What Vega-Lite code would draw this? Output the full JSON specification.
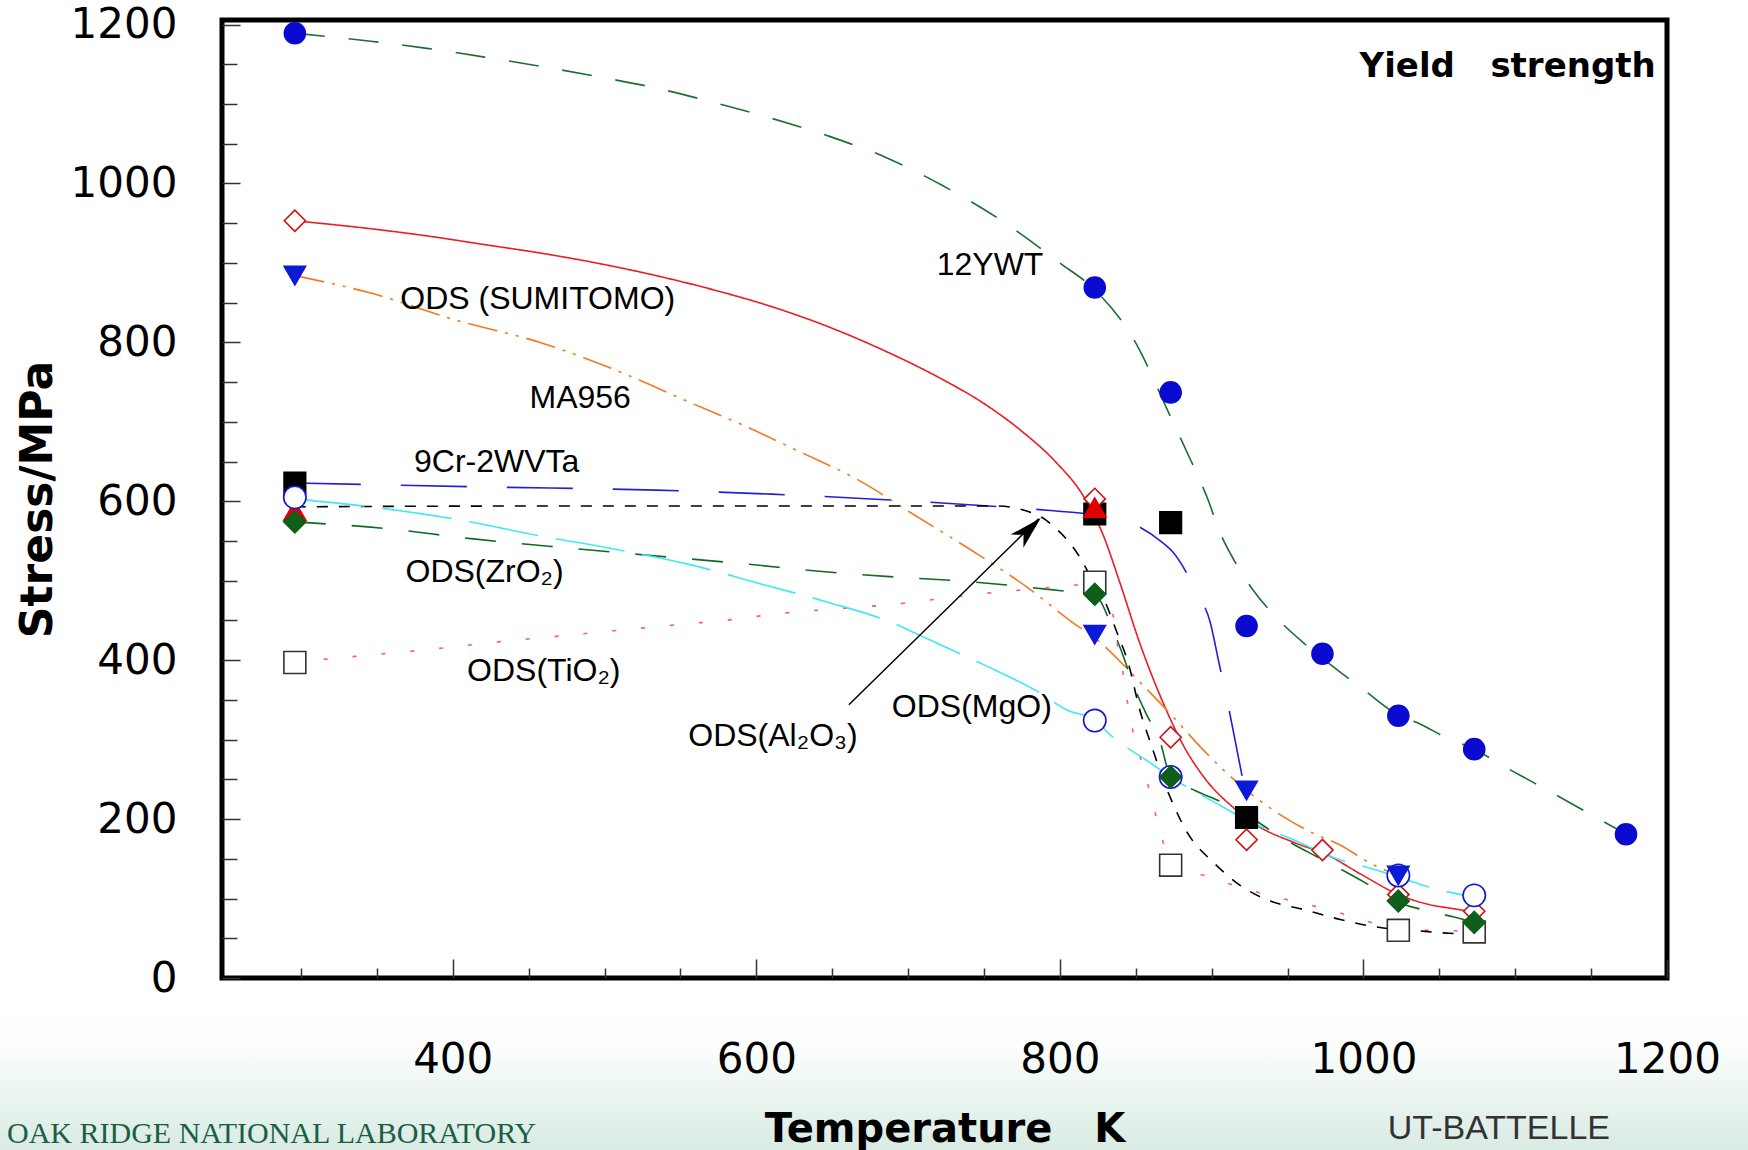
{
  "$schema": "https://vega.github.io/schema/vega-lite/v6.json",
  "width": 1445,
  "height": 958,
  "autosize": "none",
  "padding": {"left": 222, "top": 20, "right": 81, "bottom": 172},
  "background": "white",
  "config": {"view": {"stroke": "#000000", "strokeWidth": 5}},
  "datasets": {
    "curves": [
      {"s":"12YWT","T":296,"S":1189},{"s":"12YWT","T":346,"S":1179},{"s":"12YWT","T":383,"S":1170},{"s":"12YWT","T":421,"S":1159},{"s":"12YWT","T":459,"S":1147},{"s":"12YWT","T":497,"S":1134},{"s":"12YWT","T":534,"S":1120},{"s":"12YWT","T":572,"S":1102},{"s":"12YWT","T":610,"S":1082},{"s":"12YWT","T":647,"S":1060},{"s":"12YWT","T":685,"S":1033},{"s":"12YWT","T":723,"S":997},{"s":"12YWT","T":761,"S":954},{"s":"12YWT","T":800,"S":900},{"s":"12YWT","T":823,"S":866},{"s":"12YWT","T":848,"S":806},{"s":"12YWT","T":873,"S":706},{"s":"12YWT","T":882,"S":669},{"s":"12YWT","T":898,"S":600},{"s":"12YWT","T":905,"S":563},{"s":"12YWT","T":915,"S":525},{"s":"12YWT","T":927,"S":489},{"s":"12YWT","T":943,"S":453},{"s":"12YWT","T":961,"S":421},{"s":"12YWT","T":980,"S":392},{"s":"12YWT","T":1000,"S":363},{"s":"12YWT","T":1023,"S":331},{"s":"12YWT","T":1037,"S":320},{"s":"12YWT","T":1054,"S":303},{"s":"12YWT","T":1073,"S":288},{"s":"12YWT","T":1092,"S":267},{"s":"12YWT","T":1113,"S":245},{"s":"12YWT","T":1173,"S":181},
      {"s":"ODS (SUMITOMO)","T":296,"S":953},{"s":"ODS (SUMITOMO)","T":346,"S":943},{"s":"ODS (SUMITOMO)","T":383,"S":934},{"s":"ODS (SUMITOMO)","T":421,"S":923},{"s":"ODS (SUMITOMO)","T":459,"S":912},{"s":"ODS (SUMITOMO)","T":497,"S":899},{"s":"ODS (SUMITOMO)","T":534,"S":884},{"s":"ODS (SUMITOMO)","T":572,"S":866},{"s":"ODS (SUMITOMO)","T":610,"S":845},{"s":"ODS (SUMITOMO)","T":647,"S":820},{"s":"ODS (SUMITOMO)","T":685,"S":789},{"s":"ODS (SUMITOMO)","T":723,"S":753},{"s":"ODS (SUMITOMO)","T":750,"S":723},{"s":"ODS (SUMITOMO)","T":775,"S":688},{"s":"ODS (SUMITOMO)","T":798,"S":648},{"s":"ODS (SUMITOMO)","T":815,"S":608},{"s":"ODS (SUMITOMO)","T":828,"S":560},{"s":"ODS (SUMITOMO)","T":840,"S":495},{"s":"ODS (SUMITOMO)","T":852,"S":425},{"s":"ODS (SUMITOMO)","T":867,"S":351},{"s":"ODS (SUMITOMO)","T":881,"S":294},{"s":"ODS (SUMITOMO)","T":896,"S":250},{"s":"ODS (SUMITOMO)","T":914,"S":215},{"s":"ODS (SUMITOMO)","T":930,"S":192},{"s":"ODS (SUMITOMO)","T":955,"S":170},{"s":"ODS (SUMITOMO)","T":975,"S":156},{"s":"ODS (SUMITOMO)","T":998,"S":131},{"s":"ODS (SUMITOMO)","T":1022,"S":106},{"s":"ODS (SUMITOMO)","T":1042,"S":93},{"s":"ODS (SUMITOMO)","T":1060,"S":87},{"s":"ODS (SUMITOMO)","T":1073,"S":83},
      {"s":"MA956","T":296,"S":884},{"s":"MA956","T":346,"S":862},{"s":"MA956","T":402,"S":828},{"s":"MA956","T":459,"S":799},{"s":"MA956","T":515,"S":759},{"s":"MA956","T":553,"S":727},{"s":"MA956","T":591,"S":696},{"s":"MA956","T":629,"S":662},{"s":"MA956","T":666,"S":628},{"s":"MA956","T":704,"S":583},{"s":"MA956","T":742,"S":538},{"s":"MA956","T":779,"S":491},{"s":"MA956","T":808,"S":448},{"s":"MA956","T":823,"S":428},{"s":"MA956","T":856,"S":366},{"s":"MA956","T":873,"S":332},{"s":"MA956","T":896,"S":284},{"s":"MA956","T":920,"S":241},{"s":"MA956","T":940,"S":212},{"s":"MA956","T":966,"S":183},{"s":"MA956","T":984,"S":168},{"s":"MA956","T":1005,"S":144},{"s":"MA956","T":1023,"S":129},
      {"s":"9Cr-2WVTa","T":296,"S":623},{"s":"9Cr-2WVTa","T":421,"S":618},{"s":"9Cr-2WVTa","T":534,"S":614},{"s":"9Cr-2WVTa","T":610,"S":609},{"s":"9Cr-2WVTa","T":685,"S":602},{"s":"9Cr-2WVTa","T":761,"S":593},{"s":"9Cr-2WVTa","T":796,"S":588},{"s":"9Cr-2WVTa","T":823,"S":583},{"s":"9Cr-2WVTa","T":849,"S":571},{"s":"9Cr-2WVTa","T":867,"S":549},{"s":"9Cr-2WVTa","T":874,"S":537},{"s":"9Cr-2WVTa","T":890,"S":486},{"s":"9Cr-2WVTa","T":899,"S":448},{"s":"9Cr-2WVTa","T":905,"S":395},{"s":"9Cr-2WVTa","T":911,"S":342},{"s":"9Cr-2WVTa","T":917,"S":284},{"s":"9Cr-2WVTa","T":921,"S":245},
      {"s":"ODS(ZrO2)","T":296,"S":574},{"s":"ODS(ZrO2)","T":354,"S":566},{"s":"ODS(ZrO2)","T":412,"S":553},{"s":"ODS(ZrO2)","T":471,"S":542},{"s":"ODS(ZrO2)","T":529,"S":532},{"s":"ODS(ZrO2)","T":588,"S":522},{"s":"ODS(ZrO2)","T":647,"S":511},{"s":"ODS(ZrO2)","T":705,"S":503},{"s":"ODS(ZrO2)","T":732,"S":500},{"s":"ODS(ZrO2)","T":808,"S":486},{"s":"ODS(ZrO2)","T":823,"S":483},{"s":"ODS(ZrO2)","T":828,"S":470},{"s":"ODS(ZrO2)","T":834,"S":443},{"s":"ODS(ZrO2)","T":842,"S":404},{"s":"ODS(ZrO2)","T":848,"S":371},{"s":"ODS(ZrO2)","T":857,"S":332},{"s":"ODS(ZrO2)","T":866,"S":298},{"s":"ODS(ZrO2)","T":873,"S":253},{"s":"ODS(ZrO2)","T":889,"S":236},{"s":"ODS(ZrO2)","T":907,"S":221},{"s":"ODS(ZrO2)","T":925,"S":203},{"s":"ODS(ZrO2)","T":945,"S":178},{"s":"ODS(ZrO2)","T":963,"S":159},{"s":"ODS(ZrO2)","T":983,"S":139},{"s":"ODS(ZrO2)","T":1001,"S":120},{"s":"ODS(ZrO2)","T":1023,"S":95},{"s":"ODS(ZrO2)","T":1039,"S":86},{"s":"ODS(ZrO2)","T":1059,"S":77},{"s":"ODS(ZrO2)","T":1073,"S":70},
      {"s":"ODS(TiO2)","T":296,"S":397},{"s":"ODS(TiO2)","T":315,"S":401},{"s":"ODS(TiO2)","T":354,"S":408},{"s":"ODS(TiO2)","T":392,"S":415},{"s":"ODS(TiO2)","T":430,"S":423},{"s":"ODS(TiO2)","T":468,"S":430},{"s":"ODS(TiO2)","T":506,"S":437},{"s":"ODS(TiO2)","T":544,"S":444},{"s":"ODS(TiO2)","T":579,"S":450},{"s":"ODS(TiO2)","T":617,"S":459},{"s":"ODS(TiO2)","T":656,"S":465},{"s":"ODS(TiO2)","T":694,"S":471},{"s":"ODS(TiO2)","T":720,"S":477},{"s":"ODS(TiO2)","T":750,"S":484},{"s":"ODS(TiO2)","T":779,"S":489},{"s":"ODS(TiO2)","T":808,"S":494},{"s":"ODS(TiO2)","T":823,"S":497},{"s":"ODS(TiO2)","T":835,"S":457},{"s":"ODS(TiO2)","T":838,"S":419},{"s":"ODS(TiO2)","T":842,"S":380},{"s":"ODS(TiO2)","T":845,"S":342},{"s":"ODS(TiO2)","T":849,"S":303},{"s":"ODS(TiO2)","T":855,"S":265},{"s":"ODS(TiO2)","T":861,"S":221},{"s":"ODS(TiO2)","T":867,"S":178},{"s":"ODS(TiO2)","T":873,"S":142},{"s":"ODS(TiO2)","T":884,"S":135},{"s":"ODS(TiO2)","T":899,"S":127},{"s":"ODS(TiO2)","T":917,"S":115},{"s":"ODS(TiO2)","T":934,"S":106},{"s":"ODS(TiO2)","T":955,"S":96},{"s":"ODS(TiO2)","T":975,"S":87},{"s":"ODS(TiO2)","T":993,"S":77},{"s":"ODS(TiO2)","T":1010,"S":67},{"s":"ODS(TiO2)","T":1023,"S":60},{"s":"ODS(TiO2)","T":1048,"S":60},{"s":"ODS(TiO2)","T":1073,"S":58},
      {"s":"ODS(Al2O3)","T":296,"S":593},{"s":"ODS(Al2O3)","T":450,"S":594},{"s":"ODS(Al2O3)","T":655,"S":594},{"s":"ODS(Al2O3)","T":758,"S":594},{"s":"ODS(Al2O3)","T":788,"S":580},{"s":"ODS(Al2O3)","T":796,"S":568},{"s":"ODS(Al2O3)","T":808,"S":544},{"s":"ODS(Al2O3)","T":813,"S":530},{"s":"ODS(Al2O3)","T":820,"S":506},{"s":"ODS(Al2O3)","T":829,"S":477},{"s":"ODS(Al2O3)","T":837,"S":438},{"s":"ODS(Al2O3)","T":846,"S":390},{"s":"ODS(Al2O3)","T":852,"S":342},{"s":"ODS(Al2O3)","T":861,"S":289},{"s":"ODS(Al2O3)","T":867,"S":255},{"s":"ODS(Al2O3)","T":873,"S":226},{"s":"ODS(Al2O3)","T":884,"S":183},{"s":"ODS(Al2O3)","T":902,"S":144},{"s":"ODS(Al2O3)","T":920,"S":115},{"s":"ODS(Al2O3)","T":940,"S":96},{"s":"ODS(Al2O3)","T":961,"S":86},{"s":"ODS(Al2O3)","T":984,"S":74},{"s":"ODS(Al2O3)","T":1013,"S":63},{"s":"ODS(Al2O3)","T":1033,"S":60},{"s":"ODS(Al2O3)","T":1051,"S":57},{"s":"ODS(Al2O3)","T":1069,"S":55},
      {"s":"ODS(MgO)","T":296,"S":603},{"s":"ODS(MgO)","T":354,"S":591},{"s":"ODS(MgO)","T":406,"S":576},{"s":"ODS(MgO)","T":456,"S":557},{"s":"ODS(MgO)","T":506,"S":540},{"s":"ODS(MgO)","T":559,"S":519},{"s":"ODS(MgO)","T":603,"S":496},{"s":"ODS(MgO)","T":647,"S":473},{"s":"ODS(MgO)","T":691,"S":446},{"s":"ODS(MgO)","T":708,"S":431},{"s":"ODS(MgO)","T":749,"S":395},{"s":"ODS(MgO)","T":785,"S":361},{"s":"ODS(MgO)","T":805,"S":337},{"s":"ODS(MgO)","T":823,"S":325},{"s":"ODS(MgO)","T":832,"S":308},{"s":"ODS(MgO)","T":861,"S":269},{"s":"ODS(MgO)","T":873,"S":253},{"s":"ODS(MgO)","T":902,"S":221},{"s":"ODS(MgO)","T":925,"S":197},{"s":"ODS(MgO)","T":955,"S":173},{"s":"ODS(MgO)","T":984,"S":149},{"s":"ODS(MgO)","T":1010,"S":135},{"s":"ODS(MgO)","T":1023,"S":127},{"s":"ODS(MgO)","T":1052,"S":110},{"s":"ODS(MgO)","T":1073,"S":102}
    ],
    "pts": [
      {"s":"ODS(TiO2)","T":296,"S":397},{"s":"ODS(TiO2)","T":823,"S":498},{"s":"ODS(TiO2)","T":873,"S":142},{"s":"ODS(TiO2)","T":1023,"S":60},{"s":"ODS(TiO2)","T":1073,"S":58},
      {"s":"9Cr-2WVTa","T":296,"S":623},{"s":"9Cr-2WVTa","T":823,"S":584},{"s":"9Cr-2WVTa","T":873,"S":573},{"s":"9Cr-2WVTa","T":923,"S":202},
      {"s":"ODS (SUMITOMO)","T":296,"S":953},{"s":"ODS (SUMITOMO)","T":823,"S":603},{"s":"ODS (SUMITOMO)","T":873,"S":303},{"s":"ODS (SUMITOMO)","T":923,"S":174},{"s":"ODS (SUMITOMO)","T":973,"S":161},{"s":"ODS (SUMITOMO)","T":1023,"S":105},{"s":"ODS (SUMITOMO)","T":1073,"S":84},
      {"s":"ODS(Al2O3)","T":296,"S":588},{"s":"ODS(Al2O3)","T":823,"S":592},
      {"s":"ODS(MgO)","T":296,"S":605},{"s":"ODS(MgO)","T":823,"S":324},{"s":"ODS(MgO)","T":873,"S":253},{"s":"ODS(MgO)","T":1023,"S":129},{"s":"ODS(MgO)","T":1073,"S":104},
      {"s":"MA956","T":296,"S":884},{"s":"MA956","T":823,"S":432},{"s":"MA956","T":923,"S":236},{"s":"MA956","T":1023,"S":129},
      {"s":"ODS(ZrO2)","T":296,"S":574},{"s":"ODS(ZrO2)","T":823,"S":483},{"s":"ODS(ZrO2)","T":873,"S":253},{"s":"ODS(ZrO2)","T":1023,"S":97},{"s":"ODS(ZrO2)","T":1073,"S":70},
      {"s":"12YWT","T":296,"S":1189},{"s":"12YWT","T":823,"S":869},{"s":"12YWT","T":873,"S":737},{"s":"12YWT","T":923,"S":443},{"s":"12YWT","T":973,"S":408},{"s":"12YWT","T":1023,"S":330},{"s":"12YWT","T":1073,"S":288},{"s":"12YWT","T":1173,"S":181}
    ],
    "labels": [
      {"text":"12YWT","T":754,"S":897},
      {"text":"ODS (SUMITOMO)","T":456,"S":854},
      {"text":"MA956","T":484,"S":730},
      {"text":"9Cr-2WVTa","T":429,"S":649},
      {"text":"ODS(ZrO₂)","T":421,"S":511},
      {"text":"ODS(TiO₂)","T":460,"S":386},
      {"text":"ODS(Al₂O₃)","T":611,"S":304},
      {"text":"ODS(MgO)","T":742,"S":341}
    ],
    "arrow": [{"T":661,"S":344,"T2":786,"S2":578}],
    "arrowhead": [{"T":779.6,"S":564.4}],
    "title": [{"text":"Yield\u00a0\u00a0\u00a0strength","T":1095,"S":1146}],
    "ornl": [{"text":"OAK RIDGE NATIONAL LABORATORY","T":455,"S":-208}],
    "ut": [{"text":"UT-BATTELLE","T":1016,"S":-203}]
  },
  "layer": [
    {
      "data": {"values": [{"band": "footer"}]},
      "mark": {"type": "rect", "strokeWidth": 0, "fill": {"gradient": "linear", "x1": 0, "y1": 0, "x2": 0, "y2": 1, "stops": [{"offset": 0, "color": "#ffffff"}, {"offset": 0.3, "color": "#fcfefd"}, {"offset": 0.6, "color": "#e9f4ef"}, {"offset": 1, "color": "#d3e8df"}]}},
      "encoding": {
        "x": {
          "datum": 95, "type": "quantitative",
          "scale": {"domain": [248, 1200], "nice": false, "zero": false},
          "title": "Temperature\u00a0\u00a0\u00a0K",
          "axis": {
            "values": [300,350,400,450,500,550,600,650,700,750,800,850,900,950,1000,1050,1100,1150,1200],
            "labelExpr": "datum.value % 200 === 0 ? '' + datum.value : ''",
            "tickSize": {"condition": {"test": "datum.value % 200 === 0", "value": -19}, "value": -10},
            "tickColor": "#333333", "tickWidth": 1.5,
            "domain": false, "grid": false,
            "labelFont": "DejaVu Sans", "labelFontSize": 42, "labelColor": "#000000",
            "labelPadding": 80, "labelFlush": false, "labelOverlap": false, "labelBound": false,
            "titleFont": "DejaVu Sans", "titleFontSize": 40, "titleFontWeight": "bold", "titleColor": "#000000",
            "titlePadding": 20, "zindex": 1
          }
        },
        "x2": {"datum": 1265},
        "y": {
          "datum": -20, "type": "quantitative",
          "scale": {"domain": [0, 1205.7], "nice": false, "zero": false},
          "title": "Stress/MPa",
          "axis": {
            "values": [0,50,100,150,200,250,300,350,400,450,500,550,600,650,700,750,800,850,900,950,1000,1050,1100,1150,1200],
            "labelExpr": "datum.value % 200 === 0 ? '' + datum.value : ''",
            "tickSize": {"condition": {"test": "datum.value % 200 === 0", "value": -18}, "value": -15},
            "tickColor": "#333333", "tickWidth": 1.5,
            "domain": false, "grid": false,
            "labelFont": "DejaVu Sans", "labelFontSize": 42, "labelColor": "#000000",
            "labelPadding": 63, "labelOverlap": false, "labelBound": false, "labelFlush": false,
            "titleFont": "DejaVu Sans", "titleFontSize": 44, "titleFontWeight": "bold", "titleColor": "#000000",
            "titlePadding": 10, "zindex": 1
          }
        },
        "y2": {"datum": -240}
      }
    },
    {
      "encoding": {
        "x": {
          "field": "T", "type": "quantitative",
          "scale": {"domain": [248, 1200], "nice": false, "zero": false},
          "title": "Temperature\u00a0\u00a0\u00a0K",
          "axis": {
            "values": [300,350,400,450,500,550,600,650,700,750,800,850,900,950,1000,1050,1100,1150,1200],
            "labelExpr": "datum.value % 200 === 0 ? '' + datum.value : ''",
            "tickSize": {"condition": {"test": "datum.value % 200 === 0", "value": -19}, "value": -10},
            "tickColor": "#333333", "tickWidth": 1.5,
            "domain": false, "grid": false,
            "labelFont": "DejaVu Sans", "labelFontSize": 42, "labelColor": "#000000",
            "labelPadding": 80, "labelFlush": false, "labelOverlap": false, "labelBound": false,
            "titleFont": "DejaVu Sans", "titleFontSize": 40, "titleFontWeight": "bold", "titleColor": "#000000",
            "titlePadding": 20, "zindex": 1
          }
        },
        "y": {
          "field": "S", "type": "quantitative",
          "scale": {"domain": [0, 1205.7], "nice": false, "zero": false},
          "title": "Stress/MPa",
          "axis": {
            "values": [0,50,100,150,200,250,300,350,400,450,500,550,600,650,700,750,800,850,900,950,1000,1050,1100,1150,1200],
            "labelExpr": "datum.value % 200 === 0 ? '' + datum.value : ''",
            "tickSize": {"condition": {"test": "datum.value % 200 === 0", "value": -18}, "value": -15},
            "tickColor": "#333333", "tickWidth": 1.5,
            "domain": false, "grid": false,
            "labelFont": "DejaVu Sans", "labelFontSize": 42, "labelColor": "#000000",
            "labelPadding": 63, "labelOverlap": false, "labelBound": false, "labelFlush": false,
            "titleFont": "DejaVu Sans", "titleFontSize": 44, "titleFontWeight": "bold", "titleColor": "#000000",
            "titlePadding": 10, "zindex": 1
          }
        }
      },
      "layer": [
        {
          "data": {"name": "curves"},
          "mark": {"type": "line", "interpolate": "monotone"},
          "encoding": {
            "color": {"field": "s", "type": "nominal", "legend": null,
              "scale": {"domain": ["12YWT","ODS (SUMITOMO)","MA956","9Cr-2WVTa","ODS(ZrO2)","ODS(TiO2)","ODS(Al2O3)","ODS(MgO)"],
                        "range": ["#1d6e33","#ec1c24","#f47920","#2020d8","#0f6a22","#ff4fa0","#000000","#3ee8f5"]}},
            "strokeDash": {"field": "s", "type": "nominal", "legend": null,
              "scale": {"domain": ["12YWT","ODS (SUMITOMO)","MA956","9Cr-2WVTa","ODS(ZrO2)","ODS(TiO2)","ODS(Al2O3)","ODS(MgO)"],
                        "range": [[30,24],[1,0],[30,8,3,8,3,8],[66,40],[31,26],[4,25],[11,11],[70,18]]}},
            "strokeWidth": {"field": "s", "type": "ordinal", "legend": null,
              "scale": {"domain": ["12YWT","ODS (SUMITOMO)","MA956","9Cr-2WVTa","ODS(ZrO2)","ODS(TiO2)","ODS(Al2O3)","ODS(MgO)"],
                        "range": [1.6,1.6,1.6,1.6,3.5,2.2,1.5,1.6]}}
          }
        },
        {
          "data": {"name": "arrow"},
          "mark": {"type": "rule", "color": "#000000", "strokeWidth": 1.5},
          "encoding": {"x2": {"field": "T2"}, "y2": {"field": "S2"}}
        },
        {
          "data": {"name": "arrowhead"},
          "mark": {"type": "point", "shape": "M0,-1 L0.55,1 L0,0.45 L-0.55,1 Z", "angle": 45.7, "size": 1100, "filled": true, "color": "#000000", "opacity": 1}
        },
        {
          "data": {"name": "pts"},
          "mark": {"type": "point", "filled": true, "strokeWidth": 1.6, "opacity": 1},
          "encoding": {
            "shape": {"field": "s", "type": "nominal", "legend": null,
              "scale": {"domain": ["12YWT","ODS (SUMITOMO)","MA956","9Cr-2WVTa","ODS(ZrO2)","ODS(TiO2)","ODS(Al2O3)","ODS(MgO)"],
                        "range": ["circle","diamond","triangle-down","square","diamond","square","triangle-up","circle"]}},
            "fill": {"field": "s", "type": "nominal", "legend": null,
              "scale": {"domain": ["12YWT","ODS (SUMITOMO)","MA956","9Cr-2WVTa","ODS(ZrO2)","ODS(TiO2)","ODS(Al2O3)","ODS(MgO)"],
                        "range": ["#0a0ad0","#ffffff","#0a1ad6","#000000","#0e5e1c","#ffffff","#e00000","#ffffff"]}},
            "stroke": {"field": "s", "type": "nominal", "legend": null,
              "scale": {"domain": ["12YWT","ODS (SUMITOMO)","MA956","9Cr-2WVTa","ODS(ZrO2)","ODS(TiO2)","ODS(Al2O3)","ODS(MgO)"],
                        "range": ["#0a0ad0","#d01010","#0a1ad6","#000000","#0e5e1c","#333333","#e00000","#1414d8"]}},
            "size": {"field": "s", "type": "ordinal", "legend": null,
              "scale": {"domain": ["12YWT","ODS (SUMITOMO)","MA956","9Cr-2WVTa","ODS(ZrO2)","ODS(TiO2)","ODS(Al2O3)","ODS(MgO)"],
                        "range": [441,500,500,484,560,484,484,484]}}
          }
        },
        {
          "data": {"name": "labels"},
          "mark": {"type": "text", "font": "Liberation Sans", "fontSize": 32, "color": "#000000", "align": "center", "baseline": "middle"},
          "encoding": {"text": {"field": "text"}}
        },
        {
          "data": {"name": "title"},
          "mark": {"type": "text", "font": "DejaVu Sans", "fontSize": 34, "fontWeight": "bold", "color": "#000000", "align": "center", "baseline": "middle"},
          "encoding": {"text": {"field": "text"}}
        },
        {
          "data": {"name": "ornl"},
          "mark": {"type": "text", "font": "Liberation Serif", "fontSize": 30, "color": "#1a5e45", "align": "right", "baseline": "alphabetic"},
          "encoding": {"text": {"field": "text"}}
        },
        {
          "data": {"name": "ut"},
          "mark": {"type": "text", "font": "Liberation Sans", "fontSize": 34, "color": "#333333", "align": "left", "baseline": "alphabetic"},
          "encoding": {"text": {"field": "text"}}
        }
      ]
    }
  ]
}
